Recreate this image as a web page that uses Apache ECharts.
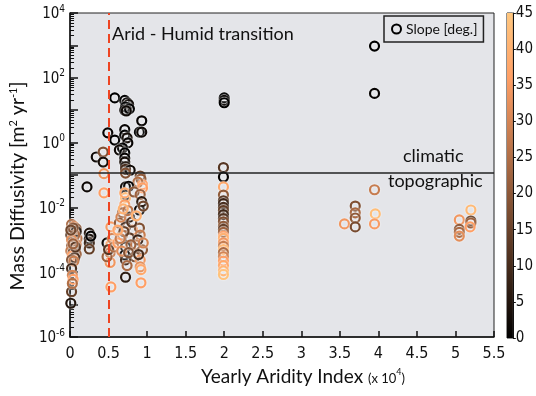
<!DOCTYPE html>
<html>
<head>
<meta charset="utf-8">
<script src="https://cdn.jsdelivr.net/npm/echarts@6/dist/echarts.min.js"></script>
<style>
html,body{margin:0;padding:0;background:#fff}
#chart{width:536px;height:396px}
</style>
</head>
<body>
<div id="chart"></div>
<script>
// Yearly aridity index (x 10^4), mass diffusivity (m2/yr) and hillslope angle (deg), one entry per site
const aridity = [
  // near 0
  0.02,0.05,0.08,0.03,0.07,0.01,0.05,0.09,0.03,0.06, 0.08,0.02,0.05,0.07,0.01,0.04,0.08,0.03,0.06,0.02,
  0.05,0.08,0.06,0.04,0.02,0.07,0.04,0.01, 0.02,0.03,0.04,0.02,0.01,0.03,
  // ~0.25
  0.25,0.25,0.25,0.25,0.27,0.22,
  // 0.34 - 0.6
  0.34,0.43,0.43,0.44,0.44,0.49,0.58,0.58,0.48,0.53, 0.53,0.52,0.52,0.53,0.48,0.50,0.55,0.57,
  // 0.64 - 0.78, above the line
  0.71,0.74,0.76,0.72,0.71,0.77,0.73,0.71,0.71,0.74, 0.75,0.68,0.64,0.71,0.71,0.71,0.72,0.72,0.78,
  // ~0.9, upper
  0.93,0.90,0.93,0.91,0.92,0.94,0.88,
  // 0.6 - 0.95, below the line
  0.72,0.72,0.72,0.94,0.71,0.68,0.77,0.90,0.64,0.72, 0.81,0.90,0.68,0.77,0.91,0.62,0.72,0.85,0.94,0.71,
  0.84,0.91,0.72,0.91,0.92,0.72,0.92,0.72,0.76,0.71, 0.83,0.91,
  0.66,0.75,0.80,0.86,0.70,0.88,0.65,0.79, 0.67,0.76,0.89,0.95,0.74,0.62,0.69,0.93,0.95,
  // ~2
  2.0,2.0,2.0, 1.99,1.99,1.99,1.99,1.99,1.99,1.99, 1.99,1.99,1.99,1.99,1.99,1.99,1.99,1.99,1.99,1.99,
  1.99,1.99,1.99,1.99,1.99,1.99,1.99,1.99,
  // 3.5 - 3.7
  3.56,3.70,3.70,3.70,3.70,
  // ~3.95
  3.95,3.95,3.95,3.96,3.95,
  // 5 - 5.2
  5.05,5.05,5.05,5.05,5.20,5.20,5.20,5.19
];
const diffusivity = [
  3.0e-3,2.6e-3,2.2e-3,1.8e-3,1.6e-3,1.4e-3,1.2e-3,1.1e-3,9e-4,8e-4, 7e-4,6.5e-4,5.5e-4,5e-4,4.5e-4,4e-4,3.6e-4,3.2e-4,2.8e-4,2.4e-4,
  2.2e-4,1.8e-3,1.4e-3,2.3e-3,1.0e-3,6e-4,7.5e-4,2.0e-3, 1.3e-4,8e-5,6e-5,2.5e-5,1.1e-5,4.5e-5,
  1.6e-3,1.05e-3,8e-4,5.2e-4,1.3e-3,4.3e-2,
  0.36,0.51,0.25,0.11,2.8e-2,2.0,1.2,24,8e-4,2.5e-3, 7e-4,4e-4,2e-4,3.5e-5,3e-4,5e-4,1.1e-3,6e-4,
  20,17,15,12.5,10,11,9.5,2.5,1.7,1.4, 0.98,0.68,0.59,0.48,0.33,0.25,0.18,0.15,0.14,
  4.7,2.1,2.1,0.093,0.075,0.05,0.06,
  4.3e-2,2.4e-2,2.0e-2,4.0e-2,1.2e-2,6.8e-3,5e-3,8.3e-3,3.3e-3,2.5e-3, 2.0e-3,2.3e-3,1.4e-3,1.15e-3,1.4e-3,8e-4,6e-4,7e-4,4.9e-4,3.4e-4,
  3.0e-4,2.4e-4,2.4e-4,1.45e-4,1.2e-4,7e-5,4.7e-5,0.115,4.5e-2,2.8e-2, 3.0e-2,2.5e-2,
  5e-3,8e-3,3.5e-3,5.5e-3,1.8e-3,1.0e-3,1.1e-3,7e-4, 4.5e-4,4e-4,3.5e-4,8e-4,1.6e-4,2e-3,9e-3,1.5e-2,1.1e-2,
  24,20,17, 0.17,0.087,0.043,0.024,1.6e-2,1.3e-2,1.0e-2, 8e-3,6e-3,4.5e-3,3.6e-3,2.6e-3,2.1e-3,1.7e-3,1.3e-3,1.1e-3,8e-4,
  6.3e-4,5e-4,4e-4,3e-4,2.2e-4,1.6e-4,1.1e-4,8.5e-5,
  3.1e-3,1.1e-2,6.8e-3,4.7e-3,2.5e-3,
  950,33,3.5e-2,6.3e-3,3.1e-3,
  4.1e-3,2.1e-3,1.7e-3,1.3e-3,8.3e-3,3.8e-3,3.3e-3,2.5e-3
];
const slope = [
  24,30,20,16,34,12,20,26,8,15, 30,22,6,18,28,14,22,36,10,18,
  28,5,24,18,32,12,22,16, 10,30,36,14,5,25,
  5,3,8,14,0,2,
  2,18,3,34,36,1,0,0,2,35, 38,28,34,36,22,12,30,25,
  0,1,2,0,1,0,2,1,0,3, 1,0,2,0,1,3,4,10,2,
  1,0,2,14,20,36,25,
  2,3,42,36,35,22,6,1,20,8, 34,18,24,12,28,36,5,26,20,2,
  16,34,10,32,38,6,36,18,1,38, 20,22,
  30,26,12,40,14,8,28,22, 32,18,10,30,24,38,40,6,16,
  0,1,0, 12,1,38,20,12,8,10, 14,9,11,18,20,14,22,36,40,34,
  28,42,24,30,36,38,41,44,
  34,18,24,20,17,
  0,1,28,43,35,
  34,20,24,32,42,14,22,36
];
const slopeMax = 45;
const transitionX = 0.5;
const regimeLimit = 0.12;
const yLabelTicks = [1e-6, 1e-4, 1e-2, 1, 1e2, 1e4];

// matlab "copper" colormap
function copper(s) {
  const t = s / slopeMax;
  const r = Math.min(1, 1.25 * t), g = 0.7812 * t, b = 0.4975 * t;
  return 'rgb(' + Math.round(r * 255) + ',' + Math.round(g * 255) + ',' + Math.round(b * 255) + ')';
}

// decade and log minor ticks for the left axis
const decadeTicks = [];
for (let d = -6; d <= 4; d++) decadeTicks.push(Math.pow(10, d));
const minorTicks = [];
for (let d = -6; d < 4; d++) {
  for (let k = 2; k <= 9; k++) minorTicks.push(d + Math.log10(k));
}

const points = aridity.map((x, i) => ({
  value: [x, diffusivity[i], slope[i]],
  itemStyle: { borderColor: copper(slope[i]) }
}));

const tickFont = "'Liberation Sans Narrow', 'DejaVu Sans Condensed', sans-serif";
const textFont = "Lato, 'Open Sans', sans-serif";

const chart = echarts.init(document.getElementById('chart'));
chart.setOption({
  animation: false,
  textStyle: { fontFamily: textFont },
  grid: [
    { left: 61, top: 13, right: 42, bottom: 59, show: true, backgroundColor: '#e4e5e9', borderColor: '#222', borderWidth: 1 },
    { left: 507, top: 13, width: 9, bottom: 58, show: true, backgroundColor: 'transparent', borderColor: '#222', borderWidth: 1 }
  ],
  legend: {
    left: 384, top: 16,
    padding: [6, 6, 6, 7],
    borderColor: '#222', borderWidth: 1.5,
    itemWidth: 9, itemHeight: 9, itemGap: 4,
    textStyle: { fontSize: 14, color: '#111', fontFamily: textFont },
    data: [{ name: 'Slope [deg.]', icon: 'circle', itemStyle: { color: 'rgba(0,0,0,0)', borderColor: '#000', borderWidth: 2 } }]
  },
  xAxis: [
    {
      gridIndex: 0, type: 'value', min: 0, max: 5.5, interval: 0.5,
      axisLine: { show: true, onZero: false, lineStyle: { color: '#111', width: 1.5 } },
      axisTick: { show: true, inside: true, length: 6, lineStyle: { color: '#111', width: 1.5 } },
      axisLabel: { fontSize: 16, color: '#111', margin: 9, fontFamily: tickFont },
      splitLine: { show: false },
      name: '{t|Yearly Aridity Index }{s|(x 10}{sup|4}{s|)}',
      nameLocation: 'middle', nameGap: 30,
      nameTextStyle: {
        padding: [0, 0, 0, 42],
        rich: {
          t: { fontSize: 19, color: '#111', fontFamily: textFont },
          s: { fontSize: 13, color: '#111', fontFamily: textFont, padding: [4, 0, 0, 0] },
          sup: { fontSize: 9, color: '#111', fontFamily: textFont, padding: [0, 0, 8, 0] }
        }
      }
    },
    { gridIndex: 1, type: 'category', data: [''], show: false }
  ],
  yAxis: [
    {
      gridIndex: 0, type: 'log', logBase: 10, min: 1e-6, max: 1e4,
      axisLine: { show: true, onZero: false, lineStyle: { color: '#111', width: 1.5 } },
      axisTick: { show: true, inside: true, length: 8, customValues: decadeTicks, lineStyle: { color: '#111', width: 1.5 } },
      axisLabel: {
        customValues: yLabelTicks,
        margin: 5,
        formatter: v => '{b|10}{sup|' + Math.round(Math.log10(v)) + '}',
        rich: {
          b: { fontSize: 15, color: '#111', fontFamily: tickFont, verticalAlign: 'bottom', lineHeight: 18 },
          sup: { fontSize: 10, color: '#111', fontFamily: tickFont, verticalAlign: 'top', lineHeight: 18 }
        }
      },
      splitLine: { show: false },
      name: 'Mass Diffusivity [m{sup|2} yr{sup|-1}]',
      nameLocation: 'middle', nameGap: 30,
      nameTextStyle: {
        fontSize: 19.5, color: '#111', fontFamily: textFont,
        padding: [0, 22, 0, 0],
        rich: { sup: { fontSize: 11, color: '#111', fontFamily: textFont, verticalAlign: 'top' } }
      }
    },
    {
      gridIndex: 0, type: 'value', min: -6, max: 4, position: 'left',
      axisLine: { show: false },
      axisTick: { show: true, inside: true, length: 4, customValues: minorTicks, lineStyle: { color: '#111', width: 1 } },
      axisLabel: { show: false },
      splitLine: { show: false }
    },
    {
      gridIndex: 1, type: 'value', min: 0, max: slopeMax, interval: 5, position: 'right',
      axisLine: { show: true, lineStyle: { color: '#111', width: 1 } },
      axisTick: { show: true, length: 3, lineStyle: { color: '#111' } },
      axisLabel: { fontSize: 15, color: '#111', margin: 3, fontFamily: tickFont },
      splitLine: { show: false }
    }
  ],
  graphic: [
    { type: 'text', left: 112, top: 25, style: { text: 'Arid - Humid transition', fontSize: 18, fill: '#111', fontFamily: textFont } },
    { type: 'text', left: 403, top: 147, style: { text: 'climatic', fontSize: 18, fill: '#111', fontFamily: textFont } },
    { type: 'text', left: 388, top: 172, style: { text: 'topographic', fontSize: 18, fill: '#111', fontFamily: textFont } }
  ],
  series: [
    {
      name: 'Slope [deg.]',
      type: 'scatter',
      xAxisIndex: 0, yAxisIndex: 0,
      symbol: 'circle', symbolSize: 9,
      itemStyle: { color: 'rgba(0,0,0,0)', borderWidth: 2.2, opacity: 1, shadowColor: 'rgba(255,255,255,0.9)', shadowBlur: 2 },
      data: points,
      markLine: {
        silent: true, symbol: ['none', 'none'], label: { show: false },
        data: [
          { yAxis: regimeLimit, lineStyle: { color: '#222', type: 'solid', width: 1.5 } },
          { xAxis: transitionX, lineStyle: { color: '#ee4422', type: [9, 5], width: 2 } }
        ]
      }
    },
    {
      type: 'bar',
      xAxisIndex: 1, yAxisIndex: 2,
      barWidth: '100%', silent: true,
      data: [slopeMax],
      itemStyle: {
        color: new echarts.graphic.LinearGradient(0, 1, 0, 0, [
          { offset: 0, color: copper(0) },
          { offset: 0.8, color: copper(36) },
          { offset: 1, color: copper(45) }
        ])
      }
    }
  ]
});
</script>
</body>
</html>
